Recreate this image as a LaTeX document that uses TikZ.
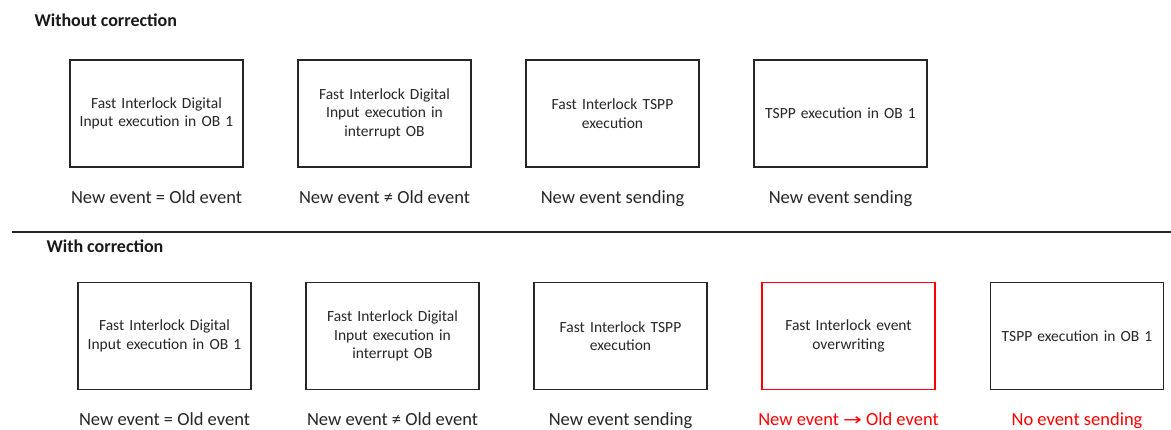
\documentclass[tikz,border=0pt]{standalone}
\usepackage{fontspec}
\usepackage{graphicx}
\setmainfont{Carlito}
\begin{document}
\begin{tikzpicture}[x=1pt,y=-1pt,
  box/.style={draw=black!85, line width=1.3pt, minimum width=173pt, minimum height=107pt, inner sep=0pt, text width=160pt, align=center, font=\fontsize{15.5}{18.5}\selectfont, text=black!85},
  redbox/.style={box, draw=red},
  lab/.style={anchor=base, font=\fontsize{18.5}{22}\selectfont, text=black!85},
  redlab/.style={lab, text=red},
  head/.style={anchor=base west, font=\fontsize{18}{20}\selectfont\bfseries, text=black!90}]
\useasboundingbox (0,0) rectangle (1171,430);
\fill[white] (0,0) rectangle (1171,430);
% top section
\node[head] (h1) at (31,27) {Without correction};
\node[box] (a1) at (156.5,113.5) {Fast Interlock Digital\\Input execution in OB 1};
\node[box] (a2) at (384.5,113.5) {Fast Interlock Digital\\Input execution in\\interrupt OB};
\node[box] (a3) at (612.5,113.5) {Fast Interlock TSPP\\execution};
\node[box] (a4) at (840.5,113.5) {TSPP execution in OB 1};
\node[lab] (l1) at (156.5,204) {New event = Old event};
\node[lab] (l2) at (384.5,204) {New event ≠ Old event};
\node[lab] (l3) at (612.5,204) {New event sending};
\node[lab] (l4) at (840.5,204) {New event sending};
% divider
\coordinate (d1) at (12,232);
\coordinate (d2) at (1171,232);
\draw[line width=2.6pt, black!85] (d1) -- (d2);
% bottom section
\node[head] (h2) at (43,253) {With correction};
\node[box] (b1) at (164.5,336) {Fast Interlock Digital\\Input execution in OB 1};
\node[box] (b2) at (392.5,336) {Fast Interlock Digital\\Input execution in\\interrupt OB};
\node[box] (b3) at (620.5,336) {Fast Interlock TSPP\\execution};
\node[redbox] (b4) at (848.5,336) {Fast Interlock event\\overwriting};
\node[box] (b5) at (1077,336) {TSPP execution in OB 1};
\node[lab] (m1) at (164.5,426) {New event = Old event};
\node[lab] (m2) at (392.5,426) {New event ≠ Old event};
\node[lab] (m3) at (620.5,426) {New event sending};
\node[redlab] (m4) at (848.5,426) {New event {\fontspec{DejaVu Sans}\fontsize{14}{16}\selectfont\scalebox{1.6}[1.2]{→}} Old event};
\node[redlab] (m5) at (1077,426) {No event sending};
\end{tikzpicture}
\end{document}
